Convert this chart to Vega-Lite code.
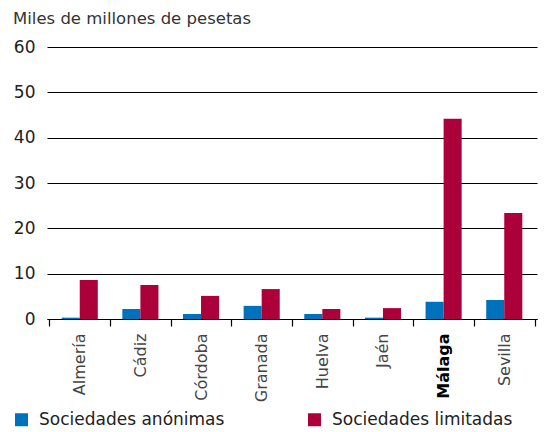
{
  "$schema": "https://vega.github.io/schema/vega-lite/v6.json",
  "autosize": {"type": "none"},
  "width": 490,
  "height": 272,
  "padding": {"left": 47, "top": 47, "right": 7, "bottom": 113},
  "background": "white",
  "title": {
    "text": "Miles de millones de pesetas",
    "anchor": "start",
    "frame": "group",
    "dx": -34,
    "offset": 11,
    "font": "DejaVu Sans",
    "fontSize": 16.5,
    "fontWeight": "normal",
    "color": "#333333"
  },
  "data": {
    "values": [
      {"provincia": "Almería", "tipo": "Sociedades anónimas", "valor": 0.3},
      {"provincia": "Almería", "tipo": "Sociedades limitadas", "valor": 8.6},
      {"provincia": "Cádiz", "tipo": "Sociedades anónimas", "valor": 2.2},
      {"provincia": "Cádiz", "tipo": "Sociedades limitadas", "valor": 7.5},
      {"provincia": "Córdoba", "tipo": "Sociedades anónimas", "valor": 1.1},
      {"provincia": "Córdoba", "tipo": "Sociedades limitadas", "valor": 5.1},
      {"provincia": "Granada", "tipo": "Sociedades anónimas", "valor": 2.9},
      {"provincia": "Granada", "tipo": "Sociedades limitadas", "valor": 6.6},
      {"provincia": "Huelva", "tipo": "Sociedades anónimas", "valor": 1.1},
      {"provincia": "Huelva", "tipo": "Sociedades limitadas", "valor": 2.2},
      {"provincia": "Jaén", "tipo": "Sociedades anónimas", "valor": 0.3},
      {"provincia": "Jaén", "tipo": "Sociedades limitadas", "valor": 2.4},
      {"provincia": "Málaga", "tipo": "Sociedades anónimas", "valor": 3.8},
      {"provincia": "Málaga", "tipo": "Sociedades limitadas", "valor": 44.2},
      {"provincia": "Sevilla", "tipo": "Sociedades anónimas", "valor": 4.2},
      {"provincia": "Sevilla", "tipo": "Sociedades limitadas", "valor": 23.4}
    ]
  },
  "mark": {"type": "bar"},
  "encoding": {
    "x": {
      "field": "provincia",
      "type": "nominal",
      "sort": null,
      "scale": {"paddingInner": 0, "paddingOuter": 0.04},
      "axis": {
        "title": null,
        "labelAngle": 270,
        "labelAlign": "right",
        "labelBaseline": "middle",
        "labelPadding": 7,
        "labelFont": "DejaVu Sans",
        "labelFontSize": 16,
        "labelColor": {"condition": {"test": "datum.value == 'Málaga'", "value": "#000000"}, "value": "#444444"},
        "labelFontWeight": {"condition": {"test": "datum.value == 'Málaga'", "value": "bold"}, "value": "normal"},
        "tickBand": "extent",
        "ticks": true,
        "tickSize": 7,
        "tickColor": "#000000",
        "tickWidth": 1.2,
        "domainColor": "#000000",
        "domainWidth": 1.2,
        "grid": false
      }
    },
    "xOffset": {
      "field": "tipo",
      "type": "nominal",
      "scale": {"paddingInner": 0, "paddingOuter": 0.68}
    },
    "y": {
      "field": "valor",
      "type": "quantitative",
      "scale": {"domain": [0, 60]},
      "axis": {
        "title": null,
        "values": [0, 10, 20, 30, 40, 50, 60],
        "domain": false,
        "ticks": false,
        "labelPadding": 12,
        "labelFont": "DejaVu Sans",
        "labelFontSize": 17,
        "labelColor": "#222222",
        "grid": true,
        "gridColor": "#000000",
        "gridWidth": 1.2,
        "gridOpacity": 1
      }
    },
    "color": {
      "field": "tipo",
      "type": "nominal",
      "scale": {"domain": ["Sociedades anónimas", "Sociedades limitadas"], "range": ["#0072bc", "#ac003a"]},
      "legend": {
        "title": null,
        "orient": "none",
        "legendX": -34,
        "legendY": 364,
        "direction": "horizontal",
        "symbolType": "square",
        "symbolSize": 169,
        "symbolStrokeWidth": 0,
        "symbolOpacity": 1,
        "labelFont": "DejaVu Sans",
        "labelFontSize": 17,
        "labelColor": "#222222",
        "labelOffset": 9,
        "labelLimit": 400,
        "columnPadding": 81
      }
    }
  },
  "config": {"view": {"stroke": null}}
}
